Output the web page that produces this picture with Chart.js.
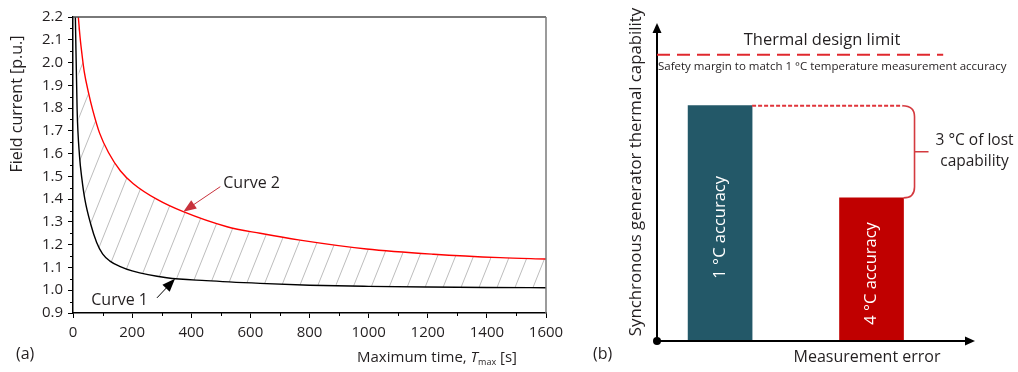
<!DOCTYPE html>
<html>
<head>
<meta charset="utf-8">
<script src="https://cdn.jsdelivr.net/npm/chart.js@4.4.1/dist/chart.umd.min.js"></script>
<style>
body { margin: 0; background: #fff; }
#wrap { position: relative; width: 1018px; height: 372px; }
#left { position: absolute; left: 0; top: 0; }
#right { position: absolute; left: 590px; top: 0; }
</style>
</head>
<body>
<div id="wrap">
<canvas id="left" width="590" height="372"></canvas>
<canvas id="right" width="428" height="372"></canvas>
</div>
<script>
// (a) field current [p.u.] against maximum time [s]
const time1 = [8, 14, 22, 30, 40, 60, 80, 100, 125, 160, 200, 317, 450, 633, 800, 1000, 1200, 1400, 1600];
const curve1 = [2.2, 1.79, 1.59, 1.49, 1.40, 1.29, 1.21, 1.16, 1.128, 1.104, 1.085, 1.055, 1.042, 1.03, 1.022, 1.017, 1.014, 1.012, 1.011];
const time2 = [18, 24, 30, 38, 52, 67, 90, 120, 160, 204, 283, 373, 521, 633, 768, 993, 1220, 1445, 1600];
const curve2 = [2.2, 2.11, 2.04, 1.96, 1.87, 1.79, 1.69, 1.605, 1.525, 1.468, 1.40, 1.345, 1.279, 1.25, 1.22, 1.181, 1.158, 1.143, 1.137];
const xTickValues = [0, 200, 400, 600, 800, 1000, 1200, 1400, 1600];
const yTickValues = [0.9, 1.0, 1.1, 1.2, 1.3, 1.4, 1.5, 1.6, 1.7, 1.8, 1.9, 2.0, 2.1, 2.2];

// (b) schematic bars: measurement error [°C] and relative thermal capability
const errorLevels = [1, 4];
const barLabels = ['1 °C accuracy', '4 °C accuracy'];
const capability = [74, 45];
const designLimit = 90;

const FONT = "'Open Sans', sans-serif";
const TXT = '#231f20';

function hatch() {
    const w = 18, h = 45;
    const c = document.createElement('canvas');
    c.width = w; c.height = h;
    const g = c.getContext('2d');
    g.strokeStyle = '#bdbdbd';
    g.lineWidth = 1;
    for (let k = -1; k <= 1; k++) {
        g.beginPath();
        g.moveTo(k * w, h);
        g.lineTo(w + k * w, 0);
        g.stroke();
    }
    return g.createPattern(c, 'repeat');
}

function arrow(ctx, x0, y0, x1, y1, color, len, half) {
    const ang = Math.atan2(y1 - y0, x1 - x0);
    ctx.strokeStyle = color;
    ctx.fillStyle = color;
    ctx.lineWidth = 1;
    ctx.beginPath();
    ctx.moveTo(x0, y0);
    ctx.lineTo(x1 - Math.cos(ang) * len * 0.8, y1 - Math.sin(ang) * len * 0.8);
    ctx.stroke();
    ctx.beginPath();
    ctx.moveTo(x1, y1);
    ctx.lineTo(x1 - Math.cos(ang) * len - Math.sin(ang) * half, y1 - Math.sin(ang) * len + Math.cos(ang) * half);
    ctx.lineTo(x1 - Math.cos(ang) * len + Math.sin(ang) * half, y1 - Math.sin(ang) * len - Math.cos(ang) * half);
    ctx.closePath();
    ctx.fill();
}

const leftDeco = {
    id: 'leftDeco',
    afterDraw(chart) {
        const { ctx, chartArea: a, scales: { x, y } } = chart;
        ctx.save();
        // box top and right
        ctx.lineWidth = 1.5;
        ctx.strokeStyle = '#4d4d4d';
        ctx.beginPath(); ctx.moveTo(a.left, a.top); ctx.lineTo(a.right, a.top); ctx.stroke();
        ctx.strokeStyle = '#7a7a7a';
        ctx.beginPath(); ctx.moveTo(a.right, a.top); ctx.lineTo(a.right, a.bottom); ctx.stroke();
        // minor ticks
        ctx.strokeStyle = '#000';
        ctx.lineWidth = 1;
        for (let i = 0; i < yTickValues.length - 1; i++) {
            const py = Math.round(y.getPixelForValue((yTickValues[i] + yTickValues[i + 1]) / 2)) + 0.5;
            ctx.beginPath(); ctx.moveTo(a.left - 3, py); ctx.lineTo(a.left, py); ctx.stroke();
        }
        for (let i = 0; i < xTickValues.length - 1; i++) {
            const px = Math.round(x.getPixelForValue((xTickValues[i] + xTickValues[i + 1]) / 2)) + 0.5;
            ctx.beginPath(); ctx.moveTo(px, a.bottom); ctx.lineTo(px, a.bottom + 3); ctx.stroke();
        }
        // curve labels
        ctx.font = '16px ' + FONT;
        ctx.fillStyle = TXT;
        ctx.textBaseline = 'middle';
        const t2x = x.getPixelForValue(time2[11]), t2y = y.getPixelForValue(curve2[11]);
        arrow(ctx, t2x + 37, t2y - 25, t2x, t2y, '#c8323c', 13, 5);
        ctx.fillStyle = TXT;
        ctx.textAlign = 'left';
        ctx.fillText('Curve 2', t2x + 40, t2y - 28);
        const t1x = x.getPixelForValue(345), t1y = y.getPixelForValue(1.05);
        arrow(ctx, t1x - 18, t1y + 19, t1x, t1y, '#000', 13, 5);
        ctx.fillStyle = TXT;
        ctx.textAlign = 'right';
        ctx.fillText('Curve 1', t1x - 27, t1y + 22);
        // axis titles
        ctx.save();
        ctx.translate(17, 104);
        ctx.rotate(-Math.PI / 2);
        ctx.textAlign = 'center';
        ctx.font = '16px ' + FONT;
        ctx.fillText('Field current [p.u.]', 0, 0);
        ctx.restore();
        const parts = [
            ['Maximum time, ', '15px ' + FONT, 0],
            ['T', 'italic 15px ' + FONT, 0],
            ['max', '9px ' + FONT, 4],
            [' [s]', '15px ' + FONT, 0]
        ];
        let total = 0;
        parts.forEach(p => { ctx.font = p[1]; total += ctx.measureText(p[0]).width; });
        let cx = 437 - total / 2;
        ctx.textAlign = 'left';
        parts.forEach(p => {
            ctx.font = p[1];
            ctx.fillText(p[0], cx, 358 + p[2]);
            cx += ctx.measureText(p[0]).width;
        });
        ctx.font = '16px ' + FONT;
        ctx.fillText('(a)', 16, 354);
        ctx.restore();
    }
};

new Chart(document.getElementById('left'), {
    type: 'line',
    data: {
        datasets: [{
            label: 'Curve 1',
            data: time1.map((t, i) => ({ x: t, y: curve1[i] })),
            borderColor: '#000',
            borderWidth: 1.4,
            pointRadius: 0,
            cubicInterpolationMode: 'monotone',
            fill: false
        }, {
            label: 'Curve 2',
            data: time2.map((t, i) => ({ x: t, y: curve2[i] })),
            borderColor: '#ff0000',
            borderWidth: 1.4,
            pointRadius: 0,
            cubicInterpolationMode: 'monotone',
            fill: { target: 0 },
            backgroundColor: hatch()
        }]
    },
    options: {
        responsive: false,
        animation: false,
        layout: { padding: { left: 0, top: 17, right: 44, bottom: 0 } },
        plugins: { legend: { display: false }, tooltip: { enabled: false } },
        scales: {
            x: {
                type: 'linear',
                min: 0, max: 1600,
                afterBuildTicks: s => { s.ticks = xTickValues.map(v => ({ value: v })); },
                afterFit: s => { s.height = 59; },
                grid: { drawOnChartArea: false, tickLength: 5, color: '#000' },
                border: { color: '#000', width: 1.5 },
                ticks: { font: { family: FONT, size: 15 }, color: TXT, padding: 6, maxRotation: 0, callback: v => String(v) }
            },
            y: {
                min: 0.9, max: 2.2,
                afterBuildTicks: s => { s.ticks = yTickValues.map(v => ({ value: v })); },
                afterFit: s => { s.width = 73; },
                grid: { drawOnChartArea: false, tickLength: 5, color: '#000' },
                border: { color: '#000', width: 1.5 },
                ticks: { font: { family: FONT, size: 15 }, color: TXT, padding: 5, callback: v => v.toFixed(1) }
            }
        }
    },
    plugins: [leftDeco]
});

const rightDeco = {
    id: 'rightDeco',
    afterDatasetsDraw(chart) {
        const { ctx, chartArea: a, scales: { x, y } } = chart;
        const bars = chart.getDatasetMeta(0).data;
        ctx.save();
        // axes with arrows
        ctx.strokeStyle = '#000';
        ctx.fillStyle = '#000';
        ctx.lineWidth = 2;
        ctx.beginPath();
        ctx.moveTo(a.left, a.bottom); ctx.lineTo(a.left, a.top + 6);
        ctx.moveTo(a.left, a.bottom); ctx.lineTo(a.right - 6, a.bottom);
        ctx.stroke();
        ctx.beginPath();
        ctx.moveTo(a.left, a.top); ctx.lineTo(a.left - 4.5, a.top + 10); ctx.lineTo(a.left + 4.5, a.top + 10); ctx.closePath();
        ctx.fill();
        ctx.beginPath();
        ctx.moveTo(a.right, a.bottom); ctx.lineTo(a.right - 10, a.bottom - 4.5); ctx.lineTo(a.right - 10, a.bottom + 4.5); ctx.closePath();
        ctx.fill();
        ctx.beginPath(); ctx.arc(a.left, a.bottom, 4, 0, Math.PI * 2); ctx.fill();

        // design limit
        const ly = y.getPixelForValue(designLimit);
        ctx.strokeStyle = '#e0282e';
        ctx.lineWidth = 2;
        ctx.setLineDash([13, 7]);
        ctx.beginPath(); ctx.moveTo(a.left, ly); ctx.lineTo(x.getPixelForValue(5.42), ly); ctx.stroke();
        ctx.setLineDash([]);

        // lost capability brace
        const b1 = bars[0], b2 = bars[1];
        const topY = b1.y, botY = b2.y;
        const r1 = b1.x + b1.width / 2, r2 = b2.x + b2.width / 2;
        const bx = r2 + 11;
        ctx.strokeStyle = '#e0343a';
        ctx.lineWidth = 2;
        ctx.setLineDash([4, 2]);
        ctx.beginPath(); ctx.moveTo(r1, topY); ctx.lineTo(bx - 12, topY); ctx.stroke();
        ctx.setLineDash([]);
        ctx.lineWidth = 1.6;
        ctx.strokeStyle = '#d43a3f';
        ctx.beginPath();
        ctx.moveTo(bx - 12, topY);
        ctx.quadraticCurveTo(bx, topY, bx, topY + 11);
        ctx.lineTo(bx, botY - 11);
        ctx.quadraticCurveTo(bx, botY, r2, botY);
        const my = (topY + botY) / 2;
        ctx.moveTo(bx, my); ctx.lineTo(bx + 14, my);
        ctx.stroke();

        // texts
        ctx.fillStyle = TXT;
        ctx.textBaseline = 'middle';
        ctx.textAlign = 'center';
        ctx.font = '15.5px ' + FONT;
        ctx.fillText('3 °C of lost', bx + 60, my - 11);
        ctx.fillText('capability', bx + 60, my + 10);
        ctx.font = '16.5px ' + FONT;
        ctx.fillText('Thermal design limit', 232, 40);
        ctx.textAlign = 'left';
        ctx.font = '11.5px ' + FONT;
        ctx.fillText('Safety margin to match 1 °C temperature measurement accuracy', a.left + 1, 67);
        ctx.textAlign = 'center';
        ctx.font = '16px ' + FONT;
        ctx.fillText('Measurement error', 277, 357);
        ctx.textAlign = 'left';
        ctx.fillText('(b)', 3, 354);
        ctx.save();
        ctx.translate(46, 172);
        ctx.rotate(-Math.PI / 2);
        ctx.textAlign = 'center';
        ctx.font = '16.8px ' + FONT;
        ctx.fillText('Synchronous generator thermal capability', 0, 0);
        ctx.restore();
        // bar captions
        ctx.fillStyle = '#fff';
        ctx.font = '16.5px ' + FONT;
        bars.forEach((b, i) => {
            ctx.save();
            ctx.translate(b.x, (b.y + b.base) / 2 + 4);
            ctx.rotate(-Math.PI / 2);
            ctx.textAlign = 'center';
            ctx.fillText(barLabels[i], 0, 0);
            ctx.restore();
        });
        ctx.restore();
    }
};

new Chart(document.getElementById('right'), {
    type: 'bar',
    data: {
        datasets: [{
            data: errorLevels.map((e, i) => ({ x: e, y: capability[i] })),
            backgroundColor: ['#235868', '#c00000'],
            borderWidth: 0,
            barThickness: 64
        }]
    },
    options: {
        responsive: false,
        animation: false,
        layout: { padding: { left: 67, right: 43, top: 23, bottom: 31 } },
        plugins: { legend: { display: false }, tooltip: { enabled: false } },
        scales: {
            x: { type: 'linear', min: -0.25, max: 6.05, offset: false, display: false },
            y: { min: 0, max: 100, display: false }
        }
    },
    plugins: [rightDeco]
});
</script>
</body>
</html>
